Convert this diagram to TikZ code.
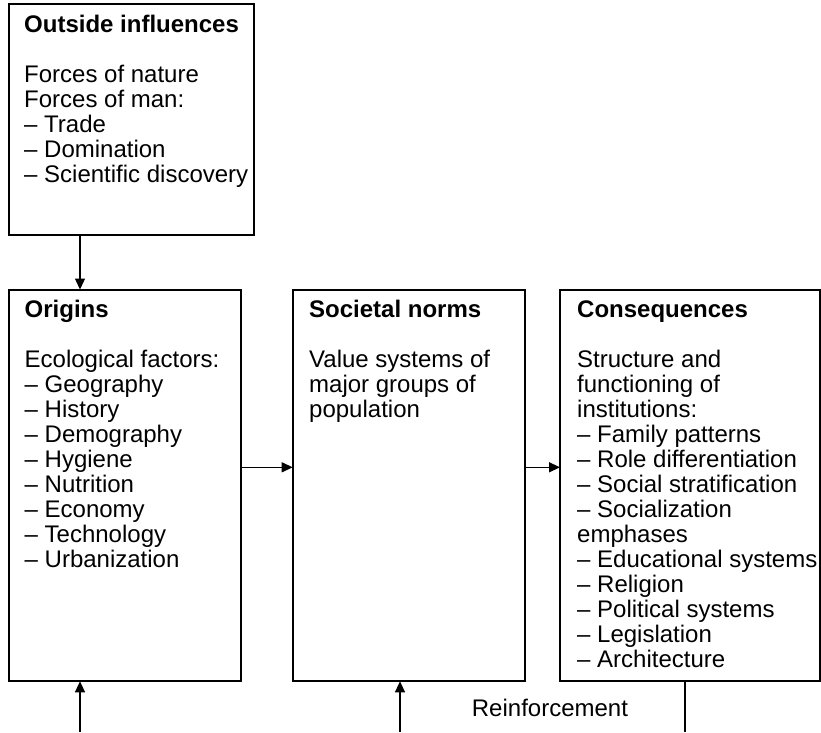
\documentclass[tikz,border=0pt]{standalone}
\usepackage{fontspec}
\setmainfont{Liberation Sans}
\usetikzlibrary{arrows.meta}
\begin{document}
\begin{tikzpicture}[x=1pt,y=-1pt,
  box/.style={draw, line width=2pt, rectangle, inner sep=0pt, outer sep=0pt},
  txt/.style={anchor=north west, inner sep=0pt, align=left, font=\fontsize{24}{25}\selectfont},
  arr/.style={line width=1.3pt, -{Triangle[length=11pt,width=10pt]}},
  plain/.style={line width=1.7pt}]
\useasboundingbox (0,0) rectangle (821,732);
% boxes
\node[box, minimum width=245pt, minimum height=231.2pt] (outside) at (131,119.4) {};
\node[box, minimum width=232pt, minimum height=391.8pt] (origins) at (124.5,485.4) {};
\node[box, minimum width=232.3pt, minimum height=391.8pt] (norms) at (408.85,485.4) {};
\node[box, minimum width=259.5pt, minimum height=391.8pt] (cons) at (689.75,485.4) {};
% texts
\node[txt] (outsidet) at (24,14.5) {\strut\textbf{Outside influences}\\[25pt]
Forces of nature\\
Forces of man:\\
– Trade\\
– Domination\\
– Scientific discovery};
\node[txt] (originst) at (24.5,299.5) {\strut\textbf{Origins}\\[25pt]
Ecological factors:\\
– Geography\\
– History\\
– Demography\\
– Hygiene\\
– Nutrition\\
– Economy\\
– Technology\\
– Urbanization};
\node[txt] (normst) at (309,299.5) {\strut\textbf{Societal norms}\\[25pt]
Value systems of\\
major groups of\\
population};
\node[txt] (const) at (577,299.5) {\strut\textbf{Consequences}\\[25pt]
Structure and\\
functioning of\\
institutions:\\
– Family patterns\\
– Role differentiation\\
– Social stratification\\
– Socialization\\
emphases\\
– Educational systems\\
– Religion\\
– Political systems\\
– Legislation\\
– Architecture};
\node[anchor=base west, inner sep=0pt, font=\fontsize{24}{25}\selectfont] (reinf) at (471.7,716.7) {Reinforcement};
% connectors
\coordinate (p1) at (80,0);
\coordinate (h) at (0,467.3);
\coordinate (b1) at (80,732);
\coordinate (b2) at (400,732);
\coordinate (b3) at (685,732);
\draw[arr] (outside.south -| p1) -- (origins.north -| p1);
\draw[arr] (origins.east |- h) -- (norms.west |- h);
\draw[arr] (norms.east |- h) -- (cons.west |- h);
\draw[arr] (b1) -- (origins.south -| b1);
\draw[arr] (b2) -- (norms.south -| b2);
\draw[plain] (cons.south -| b3) -- (b3);
\end{tikzpicture}
\end{document}
